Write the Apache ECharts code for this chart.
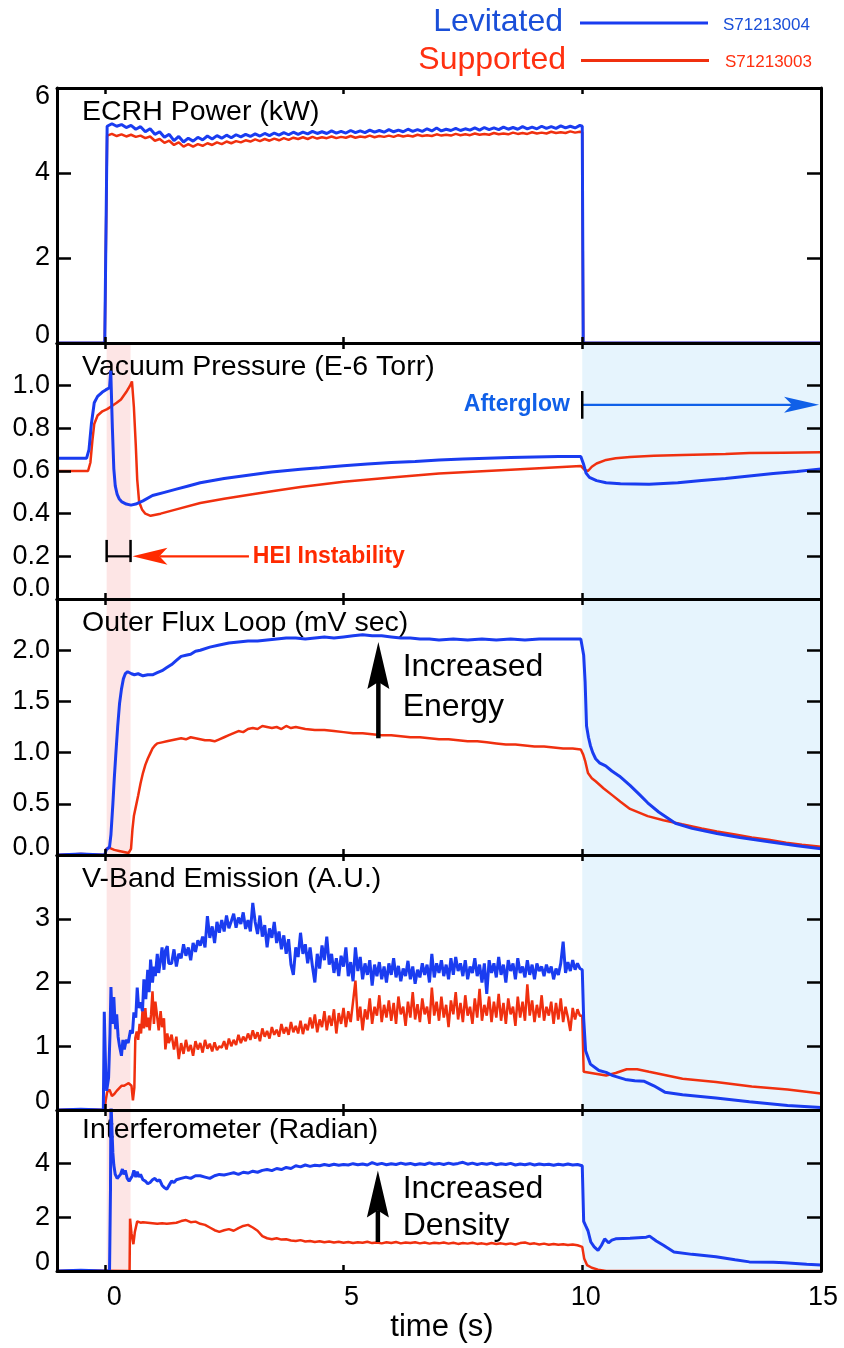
<!DOCTYPE html>
<html><head><meta charset="utf-8">
<script src="https://cdn.jsdelivr.net/npm/echarts@6/dist/echarts.min.js"></script>
<style>html,body{margin:0;padding:0;background:#fff}#c{width:844px;height:1348px}</style>
</head><body><div id="c"></div>
<script>
// ---------------- DATA ----------------
// Panel titles & legend
const panelTitles = ['ECRH Power (kW)','Vacuum Pressure (E-6 Torr)','Outer Flux Loop (mV sec)','V-Band Emission (A.U.)','Interferometer (Radian)'];
const seriesNames = ['Levitated','Supported'];
const shotIds = ['S71213004','S71213003'];
const xTickValues = [0,5,10,15];

// ECRH power (kW)
const ecrhPreT = [-1, 0.0];
const ecrhPreLev = [0, 0];
const ecrhPreSup = [0, 0];
const ecrhPlatStart = 0.05, ecrhPlatStep = 0.1;
const ecrhLev = [5.10,5.16,5.10,5.14,5.07,5.12,5.03,5.09,4.97,5.04,
 4.91,4.97,4.84,4.91,4.76,4.86,4.73,4.82,4.75,4.84,
 4.78,4.87,4.80,4.88,4.82,4.89,4.83,4.90,4.85,4.91,
 4.86,4.92,4.87,4.93,4.88,4.94,4.89,4.95,4.90,4.96,
 4.91,4.96,4.92,4.98,4.93,4.97,4.93,4.99,4.94,4.98,
 4.94,5.00,4.95,4.99,4.95,5.01,4.96,5.00,4.96,5.02,
 4.97,5.01,4.97,5.03,4.98,5.02,4.98,5.04,4.99,5.06,
 4.99,5.03,5.00,5.05,5.00,5.04,5.01,5.06,5.01,5.07,
 5.02,5.06,5.02,5.08,5.03,5.07,5.03,5.09,5.04,5.08,
 5.04,5.10,5.05,5.09,5.05,5.11,5.06,5.10,5.06,5.12];
const ecrhSup = [4.88,4.92,4.87,4.91,4.86,4.90,4.85,4.88,4.82,4.86,
 4.76,4.80,4.71,4.76,4.66,4.72,4.62,4.68,4.62,4.68,
 4.64,4.70,4.66,4.72,4.68,4.74,4.70,4.75,4.72,4.77,
 4.74,4.79,4.75,4.80,4.76,4.81,4.77,4.82,4.78,4.83,
 4.80,4.84,4.80,4.85,4.81,4.84,4.82,4.86,4.82,4.85,
 4.83,4.87,4.83,4.86,4.84,4.88,4.84,4.87,4.85,4.88,
 4.85,4.89,4.86,4.88,4.86,4.90,4.87,4.89,4.87,4.91,
 4.88,4.90,4.88,4.92,4.89,4.91,4.89,4.93,4.90,4.92,
 4.90,4.94,4.91,4.93,4.91,4.95,4.92,4.94,4.92,4.96,
 4.93,4.95,4.93,4.97,4.94,4.96,4.94,4.98,4.95,4.97];
const ecrhPostT = [10.0, 10.02, 15];
const ecrhPostLev = [5.10, 0, 0];
const ecrhPostSup = [4.96, 0, 0];

// Vacuum pressure (E-6 Torr)
const presLevT = [-1,-0.38,-0.33,-0.28,-0.22,-0.15,-0.05,0.02,0.06,0.1,0.126,0.16,0.19,0.22,0.26,0.3,0.36,0.45,0.55,0.65,0.8,1.0,1.25,1.5,1.75,2.0,2.5,3.0,3.5,4.1,4.5,5.0,5.5,6.0,6.5,7.0,7.5,8.0,8.5,9.0,9.5,9.97,10.03,10.08,10.15,10.3,10.5,10.8,11.4,12.0,12.5,13.0,13.5,14.0,14.5,15];
const presLev = [0.66,0.66,0.70,0.82,0.92,0.95,0.97,0.98,0.975,0.99,1.07,0.80,0.61,0.53,0.49,0.47,0.455,0.445,0.44,0.445,0.46,0.485,0.50,0.515,0.53,0.545,0.565,0.58,0.595,0.608,0.615,0.625,0.633,0.64,0.645,0.652,0.656,0.66,0.663,0.666,0.668,0.668,0.63,0.59,0.57,0.555,0.545,0.54,0.538,0.545,0.555,0.565,0.577,0.588,0.598,0.61];
const presSupT = [-1,-0.35,-0.3,-0.26,-0.22,-0.15,-0.05,0.05,0.15,0.25,0.34,0.45,0.53,0.57,0.61,0.65,0.68,0.72,0.78,0.85,0.96,1.17,1.5,2.0,2.5,3.06,3.5,4.1,5.0,6.0,7.0,8.0,9.0,9.97,10.05,10.12,10.2,10.3,10.5,10.7,11.0,11.5,12.1,13.0,13.5,14.2,15];
const presSup = [0.60,0.60,0.64,0.74,0.82,0.86,0.88,0.89,0.905,0.92,0.935,0.97,1.0,1.02,0.90,0.72,0.56,0.455,0.42,0.40,0.39,0.40,0.42,0.45,0.47,0.49,0.505,0.525,0.55,0.57,0.588,0.60,0.612,0.624,0.605,0.60,0.62,0.635,0.652,0.66,0.666,0.671,0.675,0.68,0.684,0.686,0.688];

// Outer flux loop (mV sec)
const fluxLevT = [-1,-0.5,0,0.03,0.07,0.1,0.13,0.17,0.2,0.23,0.27,0.31,0.35,0.39,0.43,0.48,0.52,0.56,0.62,0.7,0.8,0.9,1.0,1.1,1.2,1.3,1.4,1.5,1.6,1.7,1.8,1.9,2.0,2.2,2.4,2.6,2.8,3.0,3.2,3.4,3.6,3.8,4.0,4.2,4.4,4.6,4.8,5.0,5.2,5.4,5.6,5.8,6.0,6.2,6.4,6.6,6.8,7.0,7.3,7.6,7.9,8.2,8.5,8.8,9.1,9.4,9.7,9.97,10.03,10.06,10.09,10.13,10.17,10.22,10.28,10.36,10.49,10.62,10.78,11.0,11.2,11.37,11.6,11.95,12.3,12.82,13.3,13.91,14.5,15];
const fluxLev = [0,0.01,0,0.05,0.06,0.08,0.2,0.5,0.75,0.97,1.25,1.48,1.62,1.72,1.77,1.79,1.80,1.77,1.76,1.77,1.75,1.76,1.76,1.78,1.80,1.83,1.86,1.90,1.94,1.95,1.96,1.99,2.00,2.03,2.05,2.07,2.08,2.09,2.09,2.10,2.11,2.12,2.12,2.11,2.12,2.13,2.12,2.13,2.14,2.15,2.14,2.14,2.13,2.12,2.12,2.11,2.11,2.10,2.11,2.10,2.11,2.10,2.11,2.10,2.11,2.11,2.11,2.11,1.95,1.69,1.26,1.15,1.07,1.00,0.94,0.90,0.87,0.82,0.77,0.68,0.59,0.51,0.42,0.31,0.26,0.21,0.17,0.13,0.09,0.06];
const fluxSupT = [-1,-0.5,0,0.03,0.1,0.2,0.3,0.4,0.5,0.55,0.58,0.61,0.65,0.7,0.75,0.8,0.85,0.9,0.95,1.0,1.05,1.1,1.2,1.3,1.4,1.5,1.6,1.7,1.8,1.9,2.0,2.1,2.2,2.3,2.4,2.5,2.6,2.7,2.8,2.9,3.0,3.1,3.2,3.3,3.4,3.5,3.6,3.7,3.8,3.9,4.0,4.2,4.4,4.6,4.8,5.0,5.2,5.4,5.6,5.8,6.0,6.2,6.4,6.6,6.8,7.0,7.2,7.4,7.6,7.8,8.0,8.2,8.4,8.6,8.8,9.0,9.2,9.4,9.6,9.8,9.97,10.02,10.06,10.12,10.2,10.28,10.45,10.64,10.8,11.0,11.37,11.7,12.09,12.5,12.82,13.2,13.55,13.9,14.27,14.6,15];
const fluxSup = [0,0.01,0,0.06,0.07,0.05,0.04,0.03,0.02,0.06,0.25,0.38,0.47,0.58,0.70,0.80,0.88,0.94,0.99,1.04,1.07,1.09,
 1.10,1.11,1.12,1.13,1.14,1.13,1.15,1.14,1.13,1.12,
 1.12,1.11,1.13,1.15,1.17,1.19,1.21,1.20,1.23,1.24,
 1.23,1.26,1.25,1.24,1.25,1.23,1.26,1.24,1.25,
 1.23,1.22,1.22,1.21,1.20,1.19,1.19,1.18,1.17,1.17,
 1.16,1.15,1.15,1.14,1.13,1.13,1.12,1.11,1.11,1.10,
 1.09,1.08,1.08,1.07,1.06,1.06,1.05,1.04,1.04,
 1.03,0.98,0.92,0.80,0.75,0.72,0.65,0.58,0.52,0.45,0.38,0.34,0.30,0.26,0.23,0.20,0.17,0.15,0.12,0.10,0.08];

// V-band emission (A.U.)
const vbLevEarlyT = [-1,-0.5,-0.03,-0.01,0.02,0.04,0.08,0.11,0.13,0.15,0.17,0.19,0.21,0.23,0.25,0.28,0.31,0.35,0.38,0.41,0.45,0.49,0.54,0.58,0.61,0.65,0.68,0.71,0.75,0.79,0.82,0.86,0.9,0.93,0.96,1.0,1.03,1.06,1.1,1.13,1.17,1.2,1.24,1.27,1.31,1.34];
const vbLevEarly = [0,0.01,0,1.54,0.6,0.3,0.5,1.2,1.93,1.5,1.35,1.77,1.45,1.27,1.5,1.15,1.0,0.85,1.1,0.95,1.10,1.05,1.25,1.2,1.53,1.45,1.92,1.6,1.69,1.55,2.05,1.74,2.2,1.85,2.36,2.0,2.25,2.1,2.45,2.15,2.36,2.55,2.2,2.5,2.57,2.3];
const vbSupEarlyT = [-1,-0.5,0.0,0.02,0.05,0.1,0.15,0.2,0.25,0.3,0.35,0.4,0.45,0.5,0.53,0.56,0.59,0.62,0.64,0.67,0.7,0.73,0.76,0.79,0.82,0.85,0.88,0.91,0.94,0.97,1.0,1.03,1.06,1.1,1.13,1.17,1.2,1.24,1.27,1.31,1.34];
const vbSupEarly = [0,0.01,0,0.15,0.28,0.32,0.22,0.25,0.30,0.34,0.38,0.38,0.40,0.42,0.45,0.38,0.15,0.35,1.13,1.23,1.10,1.35,1.20,1.55,1.28,1.60,1.30,1.45,1.25,1.50,1.86,1.35,1.70,1.45,1.25,1.55,1.30,1.44,0.95,1.20,1.05];
const vbPlatStart = 1.40, vbPlatStep = 0.05;
const vbLevPlat = [2.30,2.52,2.25,2.45,2.38,2.60,2.42,2.55,2.35,2.62,
 2.48,2.66,2.58,2.72,2.55,3.04,2.70,2.88,2.62,2.95,
 2.78,2.98,2.80,3.05,2.85,2.96,3.08,2.86,3.02,2.92,
 3.10,2.84,2.98,2.80,3.25,2.95,2.76,3.05,2.72,2.90,
 2.55,2.85,2.70,2.95,2.62,2.80,2.52,2.74,2.45,2.68,
 2.28,2.12,2.55,2.40,2.78,2.45,2.60,2.30,2.55,2.25,
 2.00,2.45,2.22,2.58,2.35,2.72,2.28,2.45,2.15,2.38,
 2.10,2.42,2.25,2.55,2.10,2.32,2.02,2.55,2.18,2.40,
 2.05,2.30,2.12,2.35,1.95,2.28,2.10,2.32,2.05,2.25,
 2.00,2.30,2.12,2.38,2.08,2.26,2.02,2.22,2.10,2.34,
 2.05,2.25,1.98,2.20,2.08,2.30,2.12,2.28,2.00,2.45,
 2.08,2.30,2.15,2.35,2.10,2.28,2.05,2.38,2.12,2.40,
 2.18,2.30,2.10,2.35,2.05,2.25,2.15,2.38,2.10,2.28,
 2.00,2.30,1.82,2.35,2.15,2.30,2.08,2.40,2.12,2.28,
 2.00,2.35,2.18,2.30,2.05,2.38,2.15,2.25,2.08,2.35,
 2.12,2.28,2.05,2.30,2.18,2.25,2.10,2.28,2.15,2.25,
 2.05,2.22,2.12,2.30,2.64,2.15,2.32,2.18,2.35,2.20,
 2.30,2.22];
const vbSupPlat = [1.18,0.95,1.15,0.80,1.05,0.88,1.10,0.92,1.02,0.85,
 1.08,0.95,1.05,0.90,1.10,0.96,1.04,0.92,1.06,0.94,
 1.00,0.98,1.08,0.95,1.12,1.00,1.10,1.02,1.18,1.05,
 1.15,1.08,1.20,1.10,1.25,1.12,1.22,1.08,1.28,1.15,
 1.24,1.12,1.30,1.18,1.26,1.15,1.35,1.20,1.30,1.18,
 1.38,1.22,1.32,1.20,1.40,1.19,1.35,1.25,1.45,1.28,
 1.50,1.22,1.42,1.30,1.55,1.25,1.48,1.32,1.58,1.20,
 1.52,1.35,1.60,1.30,1.55,1.38,1.70,2.03,1.40,1.62,
 1.25,1.58,1.42,1.75,1.35,1.62,1.48,1.80,1.38,1.65,
 1.45,1.72,1.40,1.68,1.35,1.78,1.50,1.62,1.32,1.70,
 1.45,1.85,1.42,1.66,1.38,1.75,1.50,1.62,1.35,1.92,
 1.48,1.70,1.40,1.78,1.45,1.65,1.30,1.72,1.50,1.85,
 1.42,1.68,1.38,1.80,1.48,1.62,1.35,1.75,1.45,1.90,
 1.40,1.65,1.48,1.78,1.38,1.70,1.45,1.82,1.40,1.68,
 1.35,1.75,1.50,1.62,1.32,1.78,1.45,1.70,1.40,1.97,
 1.48,1.72,1.38,1.65,1.45,1.80,1.40,1.62,1.48,1.70,
 1.35,1.68,1.42,1.75,1.38,1.62,1.45,1.24,1.60,1.42,
 1.58,1.48];
const vbLevPostT = [10.0,10.03,10.07,10.17,10.35,10.5,10.64,10.9,11.1,11.3,11.5,11.73,12.1,12.8,13.5,14.3,15];
const vbLevPost = [2.2,1.43,0.93,0.72,0.62,0.59,0.54,0.48,0.46,0.45,0.38,0.28,0.24,0.19,0.13,0.07,0.04];
const vbSupPostT = [10.0,10.03,10.28,10.5,10.7,10.93,11.15,11.4,12.1,12.8,13.55,14.3,15];
const vbSupPost = [1.48,0.60,0.57,0.54,0.58,0.64,0.64,0.60,0.49,0.44,0.37,0.32,0.26];

// Interferometer (Radian)
const ifLevEarlyT = [-1,-0.5,0.0,0.1,0.12,0.13,0.15,0.17,0.19,0.22,0.26,0.3,0.33,0.37,0.4,0.43,0.47,0.51,0.54,0.58,0.61,0.65,0.68,0.72,0.75,0.8,0.85,0.9,0.95,1.0,1.05,1.1,1.15,1.2,1.25,1.3,1.35,1.4,1.45,1.5,1.6,1.7,1.8,1.9,2.0,2.1,2.2,2.3,2.4];
const ifLevEarly = [0,0.03,0,0,3,6.4,5.3,4.4,3.95,3.6,3.45,3.4,3.6,3.8,3.6,3.75,3.45,3.35,3.3,3.55,3.75,3.5,3.7,3.5,3.6,3.4,3.35,3.25,3.3,3.4,3.45,3.35,3.4,3.2,3.1,3.05,3.2,3.35,3.3,3.4,3.45,3.5,3.45,3.55,3.55,3.5,3.45,3.55,3.6];
const ifLevPlatStart = 2.5, ifPlatStep = 0.1;
const ifLevPlat = [3.58,3.62,3.66,3.60,3.68,3.65,3.72,3.68,3.75,3.78,
 3.74,3.82,3.78,3.86,3.82,3.92,3.88,3.95,3.90,3.94,
 3.92,3.97,3.93,3.98,3.94,3.97,3.95,4.00,3.96,3.99,
 3.95,4.04,3.97,4.01,3.96,4.00,3.97,4.02,3.98,4.01,
 3.96,4.00,3.97,4.03,3.98,4.01,3.97,4.02,3.98,4.01,
 4.05,3.98,4.02,3.97,4.01,3.98,4.02,3.96,4.00,3.97,
 4.01,3.95,3.99,3.96,4.00,3.95,3.99,3.96,3.98,3.94,
 3.98,3.95,3.99,3.95,3.97];
const ifLevPostT = [10.0,10.03,10.07,10.12,10.18,10.25,10.33,10.4,10.47,10.55,10.62,10.7,11.0,11.34,11.41,11.55,11.7,11.92,12.3,12.8,13.2,13.5,14.0,14.24,14.7,15];
const ifLevPost = [3.92,1.85,1.69,1.5,1.08,0.9,0.77,0.95,1.2,1.05,1.15,1.2,1.22,1.26,1.3,1.12,0.96,0.71,0.62,0.53,0.42,0.34,0.33,0.31,0.25,0.22];
const ifSupEarlyT = [-1,-0.5,0.52,0.53,0.56,0.6,0.63,0.68,0.75];
const ifSupEarly = [0,0.02,0,1.95,1.4,1.0,1.45,1.85,1.8];
const ifSupPlatStart = 0.8;
const ifSupPlat = [1.82,1.80,1.78,1.76,1.78,1.76,1.78,1.80,1.86,1.90,
 1.82,1.84,1.76,1.72,1.62,1.52,1.46,1.52,1.56,1.50,
 1.60,1.68,1.72,1.62,1.50,1.30,1.22,1.18,1.22,1.17,
 1.18,1.14,1.12,1.15,1.10,1.12,1.08,1.11,1.07,1.10,
 1.06,1.09,1.05,1.08,1.04,1.07,1.05,1.09,1.04,1.06,
 1.03,1.07,1.04,1.08,1.03,1.06,1.04,1.07,1.03,1.06,
 1.02,1.05,1.03,1.06,1.02,1.05,1.01,1.04,1.02,1.05,
 1.01,1.03,1.00,1.04,1.01,1.03,1.00,1.03,0.99,1.04,
 1.06,1.01,1.03,0.99,1.02,0.98,1.01,0.98,1.00,0.97,
 0.99,0.96];
const ifSupPostT = [10.0,10.04,10.1,10.2,10.33,10.5,15];
const ifSupPost = [0.9,0.47,0.22,0.12,0.05,0,0];

// ---------------- BUILD ----------------
const FONT = '"Liberation Sans", Arial, Helvetica, sans-serif';
const BLUE = '#1a3cf0', RED = '#f0300f';
const PINK = '#fde5e5', SKY = '#e6f4fd';

function seq(start, step, n){ const a=[]; for(let i=0;i<n;i++) a.push(+(start+i*step).toFixed(4)); return a; }
function pairs(t, v){ return t.map((x,i)=>[x, v[i]]); }
function joinSeg(segs){ let out=[]; segs.forEach(s=>{ out = out.concat(pairs(s[0], s[1])); }); return out; }

const seriesData = [
  [ joinSeg([[ecrhPreT,ecrhPreSup],[seq(ecrhPlatStart,ecrhPlatStep,ecrhSup.length),ecrhSup],[ecrhPostT,ecrhPostSup]]),
    joinSeg([[ecrhPreT,ecrhPreLev],[seq(ecrhPlatStart,ecrhPlatStep,ecrhLev.length),ecrhLev],[ecrhPostT,ecrhPostLev]]) ],
  [ pairs(presSupT,presSup), pairs(presLevT,presLev) ],
  [ pairs(fluxSupT,fluxSup), pairs(fluxLevT,fluxLev) ],
  [ joinSeg([[vbSupEarlyT,vbSupEarly],[seq(vbPlatStart,vbPlatStep,vbSupPlat.length),vbSupPlat],[vbSupPostT,vbSupPost]]),
    joinSeg([[vbLevEarlyT,vbLevEarly],[seq(vbPlatStart,vbPlatStep,vbLevPlat.length),vbLevPlat],[vbLevPostT,vbLevPost]]) ],
  [ joinSeg([[ifSupEarlyT,ifSupEarly],[seq(ifSupPlatStart,ifPlatStep,ifSupPlat.length),ifSupPlat],[ifSupPostT,ifSupPost]]),
    joinSeg([[ifLevEarlyT,ifLevEarly],[seq(ifLevPlatStart,ifPlatStep,ifLevPlat.length),ifLevPlat],[ifLevPostT,ifLevPost]]) ]
];

const panels = [
 {top:88, height:255, min:0, max:6, interval:2, dec:0, showMax:true, minPad:14, maxPad:18, titleY:112},
 {top:343, height:256, min:0, max:1.2, interval:0.2, dec:1, showMax:false, minPad:20, maxPad:0, titleY:367},
 {top:599, height:256, min:0, max:2.5, interval:0.5, dec:1, showMax:false, minPad:14, maxPad:0, titleY:623},
 {top:855, height:255, min:0, max:4, interval:1, dec:0, showMax:false, minPad:16, maxPad:0, titleY:879},
 {top:1110, height:161, min:0, max:6, interval:2, dec:0, showMax:false, minPad:16, maxPad:0, titleY:1130}
];

const grids=[], xAxes=[], yAxes=[], series=[];
const lblBase = {fontSize:27, fontFamily:FONT, color:'#000'};
panels.forEach((p,i)=>{
  grids.push({left:57, width:764, top:p.top, height:p.height, containLabel:false, outerBoundsMode:'none'});
  const xCommon = {gridIndex:i, type:'value', min:-1, max:15, z:5,
    axisLine:{show:true,onZero:false,lineStyle:{color:'#000',width:3}},
    axisTick:{show:true,inside:true,length:6,customValues:[0,5,10],lineStyle:{color:'#000',width:2.5}},
    splitLine:{show:false}};
  xAxes.push(Object.assign({}, xCommon, {position:'bottom',
    axisLabel: i===4 ? {show:true, customValues:xTickValues, margin:13, fontSize:27, fontFamily:FONT, color:'#000',
        formatter:(v)=>{const r=Math.round(v); return '{x'+r+'|'+r+'}';},
        rich:{x0:Object.assign({},lblBase,{padding:[0,0,0,19]}),x5:Object.assign({},lblBase,{padding:[0,0,0,16]}),
              x10:Object.assign({},lblBase,{padding:[0,0,0,7]}),x15:Object.assign({},lblBase,{padding:[0,0,0,4]})}}
      : {show:false}}));
  xAxes.push(Object.assign({}, xCommon, {position:'top', axisLabel:{show:false}}));
  const yCommon = {gridIndex:i, type:'value', min:p.min, max:p.max, interval:p.interval, z:5,
    axisLine:{show:true,onZero:false,lineStyle:{color:'#000',width:3}},
    axisTick:{show:true,inside:true,length:14,lineStyle:{color:'#000',width:2.5}},
    splitLine:{show:false}};
  yAxes.push(Object.assign({}, yCommon, {position:'left',
    axisLabel:{show:true, showMinLabel:true, showMaxLabel:p.showMax, margin:7, fontSize:27, fontFamily:FONT, color:'#000',
      formatter:(v)=>{const s=v.toFixed(p.dec);
        if(Math.abs(v-p.min)<1e-9) return '{lo|'+s+'}';
        if(Math.abs(v-p.max)<1e-9) return '{hi|'+s+'}';
        return s;},
      rich:{lo:Object.assign({},lblBase,{padding:[0,0,p.minPad,0]}), hi:Object.assign({},lblBase,{padding:[p.maxPad,0,0,0]})}}}));
  yAxes.push(Object.assign({}, yCommon, {position:'right', axisLabel:{show:false}}));

  const red = {type:'line', name:'Supported', xAxisIndex:2*i, yAxisIndex:2*i, data:seriesData[i][0],
    showSymbol:false, symbol:'none', clip:true, z:2, lineStyle:{color:RED,width:2.5}, itemStyle:{color:RED}};
  if(i>0){
    red.markArea = {silent:true, z:1, label:{show:false}, data:[
      [{xAxis:0.04, itemStyle:{color:PINK}},{xAxis:0.54}],
      [{xAxis:10, itemStyle:{color:SKY}},{xAxis:15}] ]};
  }
  series.push(red);
  series.push({type:'line', name:'Levitated', xAxisIndex:2*i, yAxisIndex:2*i, data:seriesData[i][1],
    showSymbol:false, symbol:'none', clip:true, z:3, lineStyle:{color:BLUE,width:3}, itemStyle:{color:BLUE}});
});

const chart = echarts.init(document.getElementById('c'), null, {renderer:'canvas'});
chart.setOption({animation:false, backgroundColor:'#fff', grid:grids, xAxis:xAxes, yAxis:yAxes, series:series});

// ---------------- ANNOTATIONS ----------------
function px(panel, x, y){ return chart.convertToPixel({seriesIndex:2*panel}, [x, y]); }
function txt(x, y, text, font, fill, align, z){
  return {type:'text', z:z, x:x, y:y, style:{text:text, font:font, fill:fill, align:align, textAlign:align, verticalAlign:'middle', textVerticalAlign:'middle'}};
}
function line(a, b, color, w, z){ return {type:'line', z:z, shape:{x1:a[0],y1:a[1],x2:b[0],y2:b[1]}, style:{stroke:color, lineWidth:w}}; }
function arrow(a, tip, color, w, len, half, notch, z){
  const dx=tip[0]-a[0], dy=tip[1]-a[1], L=Math.hypot(dx,dy), ux=dx/L, uy=dy/L, nx=-uy, ny=ux;
  const back=[tip[0]-ux*len, tip[1]-uy*len], nb=[tip[0]-ux*(len-notch), tip[1]-uy*(len-notch)];
  return [
    line(a, nb, color, w, z),
    {type:'polygon', z:z, shape:{points:[tip,[back[0]+nx*half,back[1]+ny*half],nb,[back[0]-nx*half,back[1]-ny*half]]}, style:{fill:color}}
  ];
}
const g = [];
// panel titles
panels.forEach((p,i)=>{ g.push(txt(82, p.titleY, panelTitles[i], '28.5px '+FONT, '#000', 'left', 1.5)); });
// legend
g.push(txt(563, 22, seriesNames[0], '32px '+FONT, '#1a4fd8', 'right', 10));
g.push(line([580,23],[708,23], BLUE, 3, 10));
g.push(txt(723, 25, shotIds[0], '17px '+FONT, '#1a4fd8', 'left', 10));
g.push(txt(566, 60, seriesNames[1], '32px '+FONT, '#ff3010', 'right', 10));
g.push(line([581,60.5],[709,60.5], RED, 3, 10));
g.push(txt(725, 62, shotIds[1], '17px '+FONT, '#ff3010', 'left', 10));
// x axis title
g.push(txt(442, 1327, 'time (s)', '31px '+FONT, '#000', 'center', 10));

// Afterglow annotation (panel 2)
const agStart = px(1, 10, 0.91), agTip = px(1, 14.96, 0.91);
g.push(...arrow(agStart, agTip, '#1060e8', 2.2, 35, 8, 8, 10));
g.push(line(px(1,10,0.975), px(1,10,0.845), '#000', 2.5, 10));
g.push(txt(px(1,9.74,0.91)[0], px(1,9.74,0.91)[1], 'Afterglow', 'bold 23px '+FONT, '#1060e8', 'right', 10));
// HEI instability (panel 2)
g.push(line(px(1,0.04,0.2), px(1,0.54,0.2), '#000', 2.2, 10));
g.push(line(px(1,0.04,0.277), px(1,0.04,0.173), '#000', 2.5, 10));
g.push(line(px(1,0.54,0.277), px(1,0.54,0.173), '#000', 2.5, 10));
g.push(...arrow(px(1,3.02,0.2), px(1,0.58,0.2), '#ff2a00', 2.2, 35, 8.5, 8, 10));
g.push(txt(px(1,3.1,0.2)[0], px(1,3.1,0.2)[1], 'HEI Instability', 'bold 23px '+FONT, '#ff2a00', 'left', 10));
// Increased Energy (panel 3)
g.push(...arrow(px(2,5.73,1.14), px(2,5.73,2.08), '#000', 4.5, 47, 11, 7, 10));
g.push(txt(px(2,6.24,1.83)[0], px(2,6.24,1.83)[1], 'Increased', '32px '+FONT, '#000', 'left', 10));
g.push(txt(px(2,6.24,1.44)[0], px(2,6.24,1.44)[1], 'Energy', '32px '+FONT, '#000', 'left', 10));
// Increased Density (panel 5)
g.push(...arrow(px(4,5.72,1.08), px(4,5.72,3.75), '#000', 4.5, 47, 11, 7, 10));
g.push(txt(px(4,6.24,3.06)[0], px(4,6.24,3.06)[1], 'Increased', '32px '+FONT, '#000', 'left', 10));
g.push(txt(px(4,6.24,1.68)[0], px(4,6.24,1.68)[1], 'Density', '32px '+FONT, '#000', 'left', 10));

chart.setOption({graphic:{elements:g}});
</script></body></html>
